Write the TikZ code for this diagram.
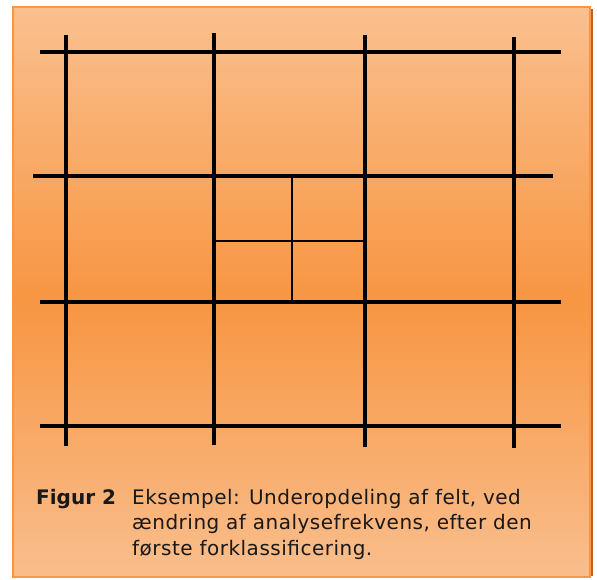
\documentclass[tikz,border=0pt]{standalone}
\usepackage{fontspec}
\setmainfont{DejaVu Sans}
\definecolor{edgeor}{RGB}{247,150,70}
\definecolor{shadowor}{RGB}{190,100,40}
\definecolor{topor}{RGB}{250,192,143}
\definecolor{midor}{RGB}{247,150,66}
\definecolor{botor}{RGB}{249,190,141}
\pgfdeclareverticalshading{panelshade}{100bp}{color(0bp)=(botor); color(25bp)=(botor); color(49.3bp)=(midor); color(75bp)=(topor); color(100bp)=(topor)}
\tikzset{
  gridthick/.style={line width=4pt, black},
  gridthin/.style={line width=1.6pt, black},
  captext/.style={font=\fontsize{20}{25.5}\selectfont\addfontfeature{LetterSpace=2.5}, text=black!90, inner sep=0pt, anchor=base west, align=left}
}
\begin{document}
\begin{tikzpicture}[x=1pt,y=-1pt]
\useasboundingbox (0,0) rectangle (597,579);
% shadow
\fill[shadowor] (15,9) rectangle (593,576);
% panel
\shade[shading=panelshade, draw=edgeor, line width=2.5pt] (13,7) rectangle (590,577);
% thick grid
\draw[gridthick] (40,52) -- (561,52);
\draw[gridthick] (33,176) -- (553,176);
\draw[gridthick] (40,302) -- (561,302);
\draw[gridthick] (40,426) -- (561,426);
\draw[gridthick] (66,35) -- (66,446);
\draw[gridthick] (214,33) -- (214,445);
\draw[gridthick] (365,35) -- (365,447);
\draw[gridthick] (514,37) -- (514,448);
% subdivision
\draw[gridthin] (292,176) -- (292,302);
\draw[gridthin] (214,241) -- (365,241);
% caption
\node[captext, font=\fontsize{20}{25.5}\selectfont\bfseries] (fig) at (36,504) {Figur 2};
\node[captext, anchor=base west] (txt) at (132,555) {Eksempel: Underopdeling af felt, ved\\ændring af analysefrekvens, efter den\\første forklassificering.};
\end{tikzpicture}
\end{document}
